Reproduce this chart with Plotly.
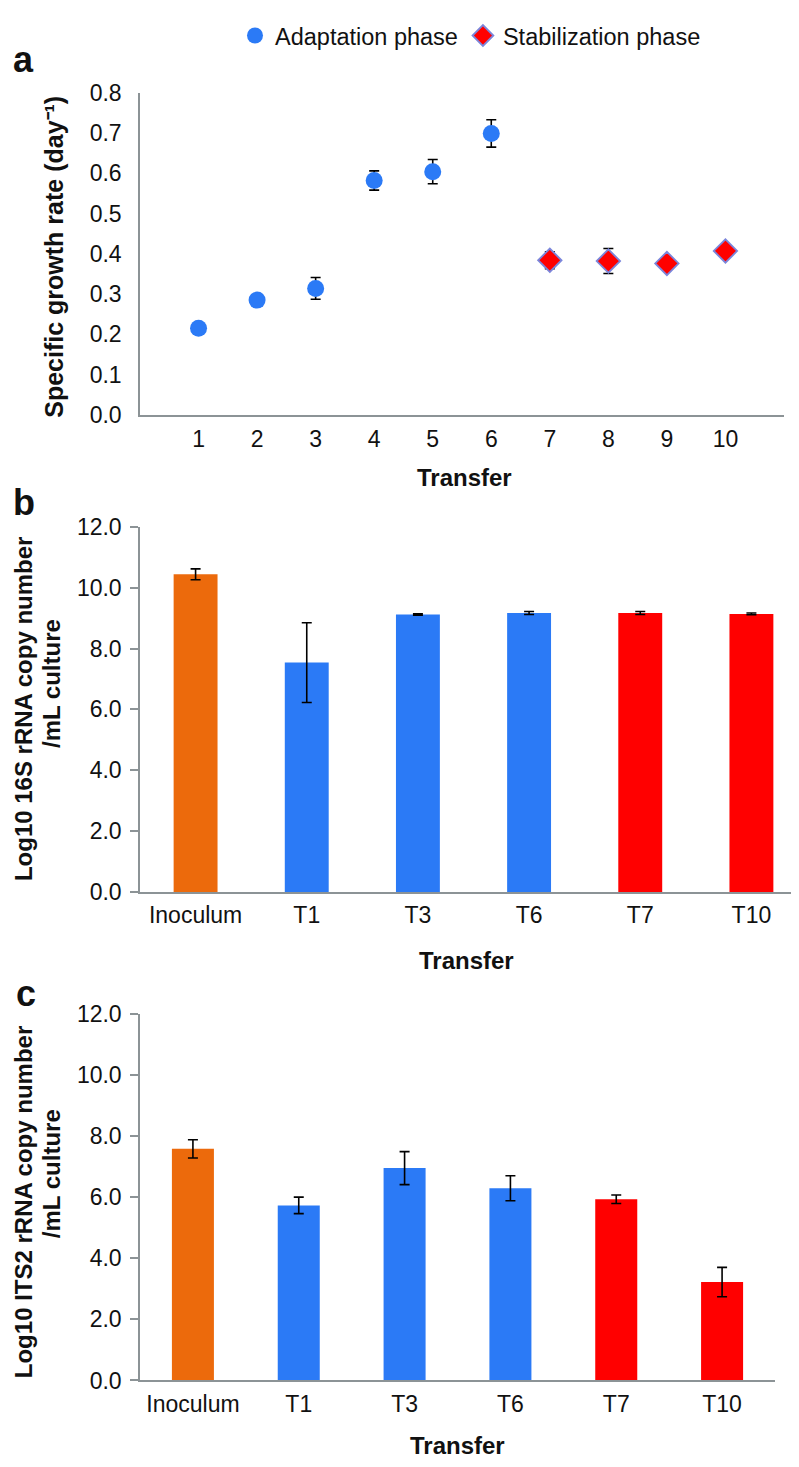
import plotly.graph_objects as go

W, H = 799, 1467
FONT = "Liberation Sans, Arial, Helvetica, sans-serif"

# ---------------- data ----------------
# Panel a: specific growth rate per transfer
transfer_adapt = [1, 2, 3, 4, 5, 6]
rate_adapt = [0.215, 0.285, 0.314, 0.582, 0.604, 0.699]
rate_adapt_err = [0.005, 0.005, 0.027, 0.024, 0.030, 0.034]
transfer_stab = [7, 8, 9, 10]
rate_stab = [0.384, 0.382, 0.376, 0.407]
rate_stab_err = [0.021, 0.031, 0.008, 0.008]
transfer_ticks = [1, 2, 3, 4, 5, 6, 7, 8, 9, 10]

# Panels b and c: qPCR copy numbers
samples = ["Inoculum", "T1", "T3", "T6", "T7", "T10"]
sample_phase = ["inoculum", "adaptation", "adaptation", "adaptation",
                "stabilization", "stabilization"]
log16s = [10.44, 7.54, 9.12, 9.17, 9.17, 9.14]
log16s_err = [0.18, 1.31, 0.02, 0.05, 0.05, 0.03]
logits2 = [7.58, 5.73, 6.95, 6.29, 5.93, 3.22]
logits2_err = [0.30, 0.27, 0.54, 0.41, 0.14, 0.48]

# ---------------- style ----------------
BLUE = "#2B7AF6"
RED = "#FF0000"
ORANGE = "#EC6A0C"
phase_color = {"inoculum": ORANGE, "adaptation": BLUE, "stabilization": RED}
bar_colors = [phase_color[p] for p in sample_phase]
AXIS = "#8C9396"
TXT = "#111111"

def px_x(p):
    return p / W

def px_y(p):
    return 1 - p / H

fig = go.Figure()

err_style = dict(type="data", color="black", thickness=1.6, width=5)

fig.add_trace(go.Scatter(
    x=transfer_adapt, y=rate_adapt, mode="markers", name="Adaptation phase",
    marker=dict(symbol="circle", size=17, color=BLUE, line=dict(width=0)),
    error_y=dict(array=rate_adapt_err, **err_style),
    xaxis="x", yaxis="y"))
fig.add_trace(go.Scatter(
    x=transfer_stab, y=rate_stab, mode="markers", name="Stabilization phase",
    marker=dict(symbol="diamond", size=18, color=RED,
                line=dict(width=1.8, color="#7B86DB")),
    error_y=dict(array=rate_stab_err, **err_style),
    xaxis="x", yaxis="y"))

fig.add_trace(go.Bar(
    x=samples, y=log16s, width=0.395, marker=dict(color=bar_colors, line=dict(width=0)),
    error_y=dict(array=log16s_err, **err_style), showlegend=False,
    xaxis="x2", yaxis="y2"))
fig.add_trace(go.Bar(
    x=samples, y=logits2, width=0.397, marker=dict(color=bar_colors, line=dict(width=0)),
    error_y=dict(array=logits2_err, **err_style), showlegend=False,
    xaxis="x3", yaxis="y3"))

tickfont = dict(family=FONT, size=23, color=TXT)
common = dict(showline=True, linecolor=AXIS, linewidth=1.5, showgrid=False,
              zeroline=False, tickfont=tickfont, fixedrange=True)

fig.update_layout(
    width=W, height=H,
    margin=dict(l=0, r=0, t=0, b=0),
    paper_bgcolor="white", plot_bgcolor="white",
    font=dict(family=FONT, color=TXT),
    xaxis=dict(domain=[px_x(132), px_x(776)], anchor="y", range=[0, 11],
               tickvals=transfer_ticks, ticks="", ticklabelstandoff=3, **common),
    yaxis=dict(domain=[px_y(401), px_y(73)], anchor="x", range=[0, 0.8],
               dtick=0.1, tickformat=".1f", ticks="", ticklabelstandoff=12, **common),
    xaxis2=dict(domain=[px_x(132), 1.0], anchor="y2", type="category",
                range=[-0.5, 5.5], ticks="", ticklabelstandoff=2, **common),
    yaxis2=dict(domain=[px_y(886.7), px_y(515)], anchor="x2", range=[0, 12],
                dtick=2, tickformat=".1f", ticks="outside", ticklen=8,
                tickcolor=AXIS, tickwidth=1.5, ticklabelstandoff=4, **common),
    xaxis3=dict(domain=[px_x(132), px_x(767)], anchor="y3", type="category",
                range=[-0.5, 5.5], ticks="", ticklabelstandoff=2, **common),
    yaxis3=dict(domain=[px_y(1384), px_y(1010.7)], anchor="x3", range=[0, 12],
                dtick=2, tickformat=".1f", ticks="outside", ticklen=8,
                tickcolor=AXIS, tickwidth=1.5, ticklabelstandoff=4, **common),
    showlegend=True,
    legend=dict(orientation="h", x=px_x(227), xanchor="left",
                y=px_y(15), yanchor="middle",
                font=dict(family=FONT, size=23.5, color=TXT),
                bgcolor="rgba(0,0,0,0)", itemclick=False, itemdoubleclick=False),
)

def ann(text, x, y, size, bold=True, angle=0):
    fig.add_annotation(
        text=f"<b>{text}</b>" if bold else text,
        x=px_x(x), y=px_y(y), xref="paper", yref="paper",
        xanchor="center", yanchor="middle", showarrow=False,
        textangle=angle, font=dict(family=FONT, size=size, color=TXT))

# panel letters
ann("a", 15, 39, 36)
ann("b", 16, 490, 36)
ann("c", 18, 990, 36)

# axis titles
ann("Specific growth rate (day\u207b\u00b9)", 46, 240, 25, angle=-90)
ann("Transfer", 456, 465, 24)
ann("Log10 16S rRNA copy number", 15.5, 700, 24, angle=-90)
ann("/mL culture", 43, 675, 24, angle=-90)
ann("Transfer", 458, 956, 24)
ann("Log10 ITS2 rRNA copy number", 15.5, 1202, 24, angle=-90)
ann("/mL culture", 43, 1174, 24, angle=-90)
ann("Transfer", 450, 1450, 24)

fig.write_html("out.html")
